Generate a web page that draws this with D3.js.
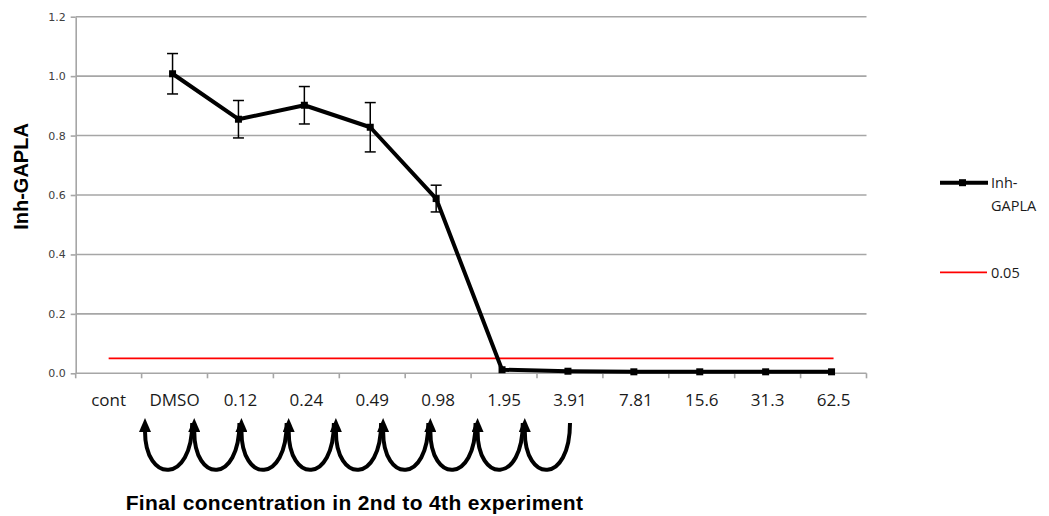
<!DOCTYPE html>
<html><head><meta charset="utf-8">
<script src="https://cdn.jsdelivr.net/npm/d3@7"></script>
<style>body{margin:0;background:#fff}</style>
</head><body>
<svg id="chart" width="1049" height="516"></svg>
<script>
// ---- data ----
const categories = ["cont","DMSO","0.12","0.24","0.49","0.98","1.95","3.91","7.81","15.6","31.3","62.5"];
const inhValues  = [null, 1.008, 0.855, 0.902, 0.828, 0.588, 0.012, 0.007, 0.005, 0.005, 0.005, 0.005];
const inhErrors  = [null, 0.068, 0.063, 0.063, 0.083, 0.045, 0, 0, 0, 0, 0, 0];
const thresholdValues = [0.05,0.05,0.05,0.05,0.05,0.05,0.05,0.05,0.05,0.05,0.05,0.05];
const yTicks = [0, 0.2, 0.4, 0.6, 0.8, 1.0, 1.2];
const seriesNames = ["Inh-GAPLA", "0.05"];
const yTitle = "Inh-GAPLA";
const footnote = "Final concentration in 2nd to 4th experiment";
const dilutionSteps = 9;

// ---- layout ----
const svg = d3.select("#chart");
svg.append("rect").attr("width",1049).attr("height",516).attr("fill","#fff");
const x = d3.scaleBand().domain(categories).range([75.7, 866.5]);
const y = d3.scaleLinear().domain([0, 1.2]).range([373.3, 16.7]);
const cx = c => x(c) + x.bandwidth()/2 - 2;
const grid = "#a6a6a6";

// gridlines
svg.append("g").selectAll("line").data(yTicks.filter(d=>d>0)).join("line")
  .attr("x1", x.range()[0]).attr("x2", x.range()[1])
  .attr("y1", d=>y(d)).attr("y2", d=>y(d))
  .attr("stroke", grid).attr("stroke-width", 1.6);

// y axis
const yAxis = svg.append("g").attr("transform", `translate(${x.range()[0]},0)`)
  .call(d3.axisLeft(y).tickValues(yTicks).tickFormat(d3.format(".1f")).tickSize(5).tickSizeOuter(0).tickPadding(5));
yAxis.select(".domain").attr("stroke", grid).attr("stroke-width", 1.6);
yAxis.selectAll(".tick line").attr("stroke", grid).attr("stroke-width", 1.6);
yAxis.selectAll("text").attr("font-family","DejaVu Sans").attr("font-size", 11).attr("fill","#404040");

// x axis
svg.append("line").attr("x1", x.range()[0]).attr("x2", x.range()[1])
  .attr("y1", y(0)).attr("y2", y(0)).attr("stroke", grid).attr("stroke-width", 1.6);
const bounds = categories.map(c => x(c)).concat([x.range()[1]]);
svg.append("g").selectAll("line").data(bounds).join("line")
  .attr("x1", d=>d).attr("x2", d=>d).attr("y1", y(0)).attr("y2", y(0)+5)
  .attr("stroke", grid).attr("stroke-width", 1.6);
const xAxis = svg.append("g").attr("transform", `translate(0,${y(0)})`)
  .call(d3.axisBottom(x).tickSize(0).tickPadding(21));
xAxis.select(".domain").remove();
xAxis.selectAll("text").attr("font-family","Open Sans").attr("font-size", 17).attr("fill","#1a1a1a");

// threshold line
const thrData = categories.map((c,i)=>({c, v: thresholdValues[i]}));
svg.append("path").datum(thrData)
  .attr("d", d3.line().x(d=>cx(d.c)+2).y(d=>y(d.v)))
  .attr("fill","none").attr("stroke","#ff0000").attr("stroke-width", 1.8);

// main series
const inhData = categories.map((c,i)=>({c, v: inhValues[i], e: inhErrors[i]})).filter(d=>d.v!==null);
svg.append("path").datum(inhData)
  .attr("d", d3.line().x(d=>cx(d.c)).y(d=>y(d.v)))
  .attr("fill","none").attr("stroke","#000").attr("stroke-width", 4).attr("stroke-linejoin","round");
// error bars
const eb = svg.append("g").selectAll("g").data(inhData.filter(d=>d.e>0)).join("g");
eb.append("line").attr("x1", d=>cx(d.c)).attr("x2", d=>cx(d.c))
  .attr("y1", d=>y(d.v+d.e)).attr("y2", d=>y(d.v-d.e)).attr("stroke","#000").attr("stroke-width",1.5);
eb.append("line").attr("x1", d=>cx(d.c)-5.5).attr("x2", d=>cx(d.c)+5.5)
  .attr("y1", d=>y(d.v+d.e)).attr("y2", d=>y(d.v+d.e)).attr("stroke","#000").attr("stroke-width",1.5);
eb.append("line").attr("x1", d=>cx(d.c)-5.5).attr("x2", d=>cx(d.c)+5.5)
  .attr("y1", d=>y(d.v-d.e)).attr("y2", d=>y(d.v-d.e)).attr("stroke","#000").attr("stroke-width",1.5);
// markers
svg.append("g").selectAll("rect").data(inhData).join("rect")
  .attr("x", d=>cx(d.c)-3.5).attr("y", d=>y(d.v)-3.5).attr("width",7).attr("height",7).attr("fill","#000");

// y title
svg.append("text").attr("transform", `translate(28,176.5) rotate(-90)`)
  .attr("text-anchor","middle").attr("font-family","Liberation Sans, Arial").attr("font-weight","bold")
  .attr("font-size", 20).attr("fill","#000").text(yTitle);

// legend
const lg = svg.append("g");
lg.append("line").attr("x1",940).attr("x2",988).attr("y1",182.7).attr("y2",182.7).attr("stroke","#000").attr("stroke-width",4);
lg.append("rect").attr("x",959).attr("y",179.2).attr("width",7).attr("height",7).attr("fill","#000");
const nameParts = seriesNames[0].split("-");
lg.append("text").attr("x",991).attr("y",187.5).attr("font-family","Open Sans").attr("font-size",14.5).attr("fill","#1a1a1a").text(nameParts[0]+"-");
lg.append("text").attr("x",991).attr("y",210.5).attr("font-family","Open Sans").attr("font-size",14.5).attr("fill","#1a1a1a").text(nameParts[1]);
lg.append("line").attr("x1",940).attr("x2",987).attr("y1",272.3).attr("y2",272.3).attr("stroke","#ff0000").attr("stroke-width",1.8);
lg.append("text").attr("x",991).attr("y",277.5).attr("font-family","Open Sans").attr("font-size",14.5).attr("fill","#1a1a1a").text(seriesNames[1]);

// dilution arrows
const defs = svg.append("defs");
defs.append("marker").attr("id","ah").attr("viewBox","0 -6 14 12")
  .attr("refX",1).attr("refY",0).attr("markerWidth",14).attr("markerHeight",12)
  .attr("markerUnits","userSpaceOnUse").attr("orient","auto")
  .append("path").attr("d","M0,-6L14,0L0,6Z").attr("fill","#000");
const ax = d3.scaleLinear().domain([0, dilutionSteps]).range([145, 570]);
svg.append("g").selectAll("path").data(d3.range(dilutionSteps)).join("path")
  .attr("d", i => {
    const xl = ax(i) + (i>0?2:0), xr = ax(i+1);
    return `M${xr},423 C${xr},484 ${xl},484 ${xl},431`;
  })
  .attr("fill","none").attr("stroke","#000").attr("stroke-width",4).attr("marker-end","url(#ah)");

// footnote
svg.append("text").attr("x",354.5).attr("y",510).attr("text-anchor","middle")
  .attr("font-family","Liberation Sans, Arial").attr("font-weight","bold").attr("font-size",21)
  .attr("letter-spacing",0.35)
  .attr("fill","#000").text(footnote);
</script>
</body></html>
